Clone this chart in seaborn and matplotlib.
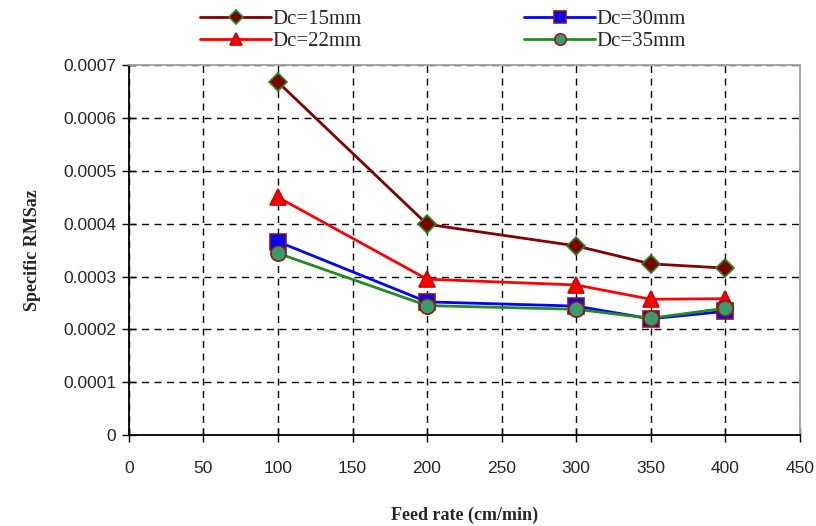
import matplotlib
matplotlib.use("Agg")
import matplotlib.pyplot as plt
import seaborn as sns
import pandas as pd
from matplotlib import font_manager

# Feed rates (cm/min) and specific RMSaz for each cutter diameter
feed_rate = [100, 200, 300, 350, 400]
dc15 = [0.000668, 0.000399, 0.000358, 0.000324, 0.000316]
dc22 = [0.000450, 0.000295, 0.000284, 0.000257, 0.000258]
dc30 = [0.000366, 0.000252, 0.000244, 0.000220, 0.000234]
dc35 = [0.000344, 0.000245, 0.000238, 0.000221, 0.000240]
series_names = ["Dc=15mm", "Dc=22mm", "Dc=30mm", "Dc=35mm"]
x_ticks = [0, 50, 100, 150, 200, 250, 300, 350, 400, 450]
y_ticks = [0, 0.0001, 0.0002, 0.0003, 0.0004, 0.0005, 0.0006, 0.0007]
y_tick_labels = ["0", "0.0001", "0.0002", "0.0003", "0.0004", "0.0005", "0.0006", "0.0007"]

sns.set_theme(style="white")
available = {f.name for f in font_manager.fontManager.ttflist}
tick_family = "Liberation Sans Narrow" if "Liberation Sans Narrow" in available else "Liberation Sans"
plt.rcParams["font.family"] = ["Liberation Serif", "DejaVu Serif"]

df = pd.DataFrame({
    "feed": feed_rate * 4,
    "val": dc15 + dc22 + dc30 + dc35,
    "series": sum([[n] * len(feed_rate) for n in series_names], []),
})

styles = {
    "Dc=15mm": dict(color="#800000", marker="D", mfc="#800000", mec="#228B22", ms=9),
    "Dc=22mm": dict(color="#FF0000", marker="^", mfc="#FF0000", mec="#CC0000", ms=12),
    "Dc=30mm": dict(color="#0000FF", marker="s", mfc="#0000FF", mec="#8B1A1A", ms=11),
    "Dc=35mm": dict(color="#228B22", marker="o", mfc="#3A9B6A", mec="#8B1A1A", ms=11),
}

fig = plt.figure(figsize=(8.16, 5.26), dpi=100)
ax = fig.add_axes([0.158, 0.173, 0.822, 0.703])

handles = {}
for name in series_names:
    st = styles[name]
    sub = df[df["series"] == name]
    sns.lineplot(data=sub, x="feed", y="val", ax=ax, color=st["color"],
                 linewidth=2.0, marker=st["marker"], markersize=st["ms"],
                 markerfacecolor=st["mfc"], markeredgecolor=st["mec"],
                 markeredgewidth=1.2, label=name, legend=False)
    handles[name] = ax.lines[-1]

ax.set_xlim(0, 450)
ax.set_ylim(0, 0.0007)
ax.set_xticks(x_ticks)
ax.set_yticks(y_ticks)
ax.set_yticklabels(y_tick_labels)
ax.set_xticklabels([str(v) for v in x_ticks])
for lab in ax.get_xticklabels() + ax.get_yticklabels():
    lab.set_family(tick_family)
    lab.set_fontsize(12.5)
ax.tick_params(axis="both", direction="inout", length=10, width=1, color="black",
               bottom=True, left=True)
ax.tick_params(axis="x", pad=14)
ax.tick_params(axis="y", pad=4)

ax.grid(True, which="major", color="black", linestyle=(0, (5, 4)), linewidth=1)
for side in ["left", "bottom"]:
    ax.spines[side].set_color("black")
    ax.spines[side].set_linewidth(1.3)
for side in ["top", "right"]:
    ax.spines[side].set_color("#A0A0A0")
    ax.spines[side].set_linewidth(1.3)

ax.set_xlabel("Feed rate (cm/min)", fontsize=13, fontweight="bold", labelpad=22)
ax.set_ylabel("Specific RMSaz", fontsize=13, fontweight="bold", labelpad=16)

fig.legend([handles[n] for n in series_names], series_names,
           ncol=2, loc="upper left", bbox_to_anchor=(0.235, 0.998),
           frameon=False, fontsize=15, handlelength=3.4, handletextpad=0.08,
           columnspacing=7.8, labelspacing=0.12, markerscale=0.75,
           borderaxespad=0)

fig.savefig("out.png", dpi=100)
